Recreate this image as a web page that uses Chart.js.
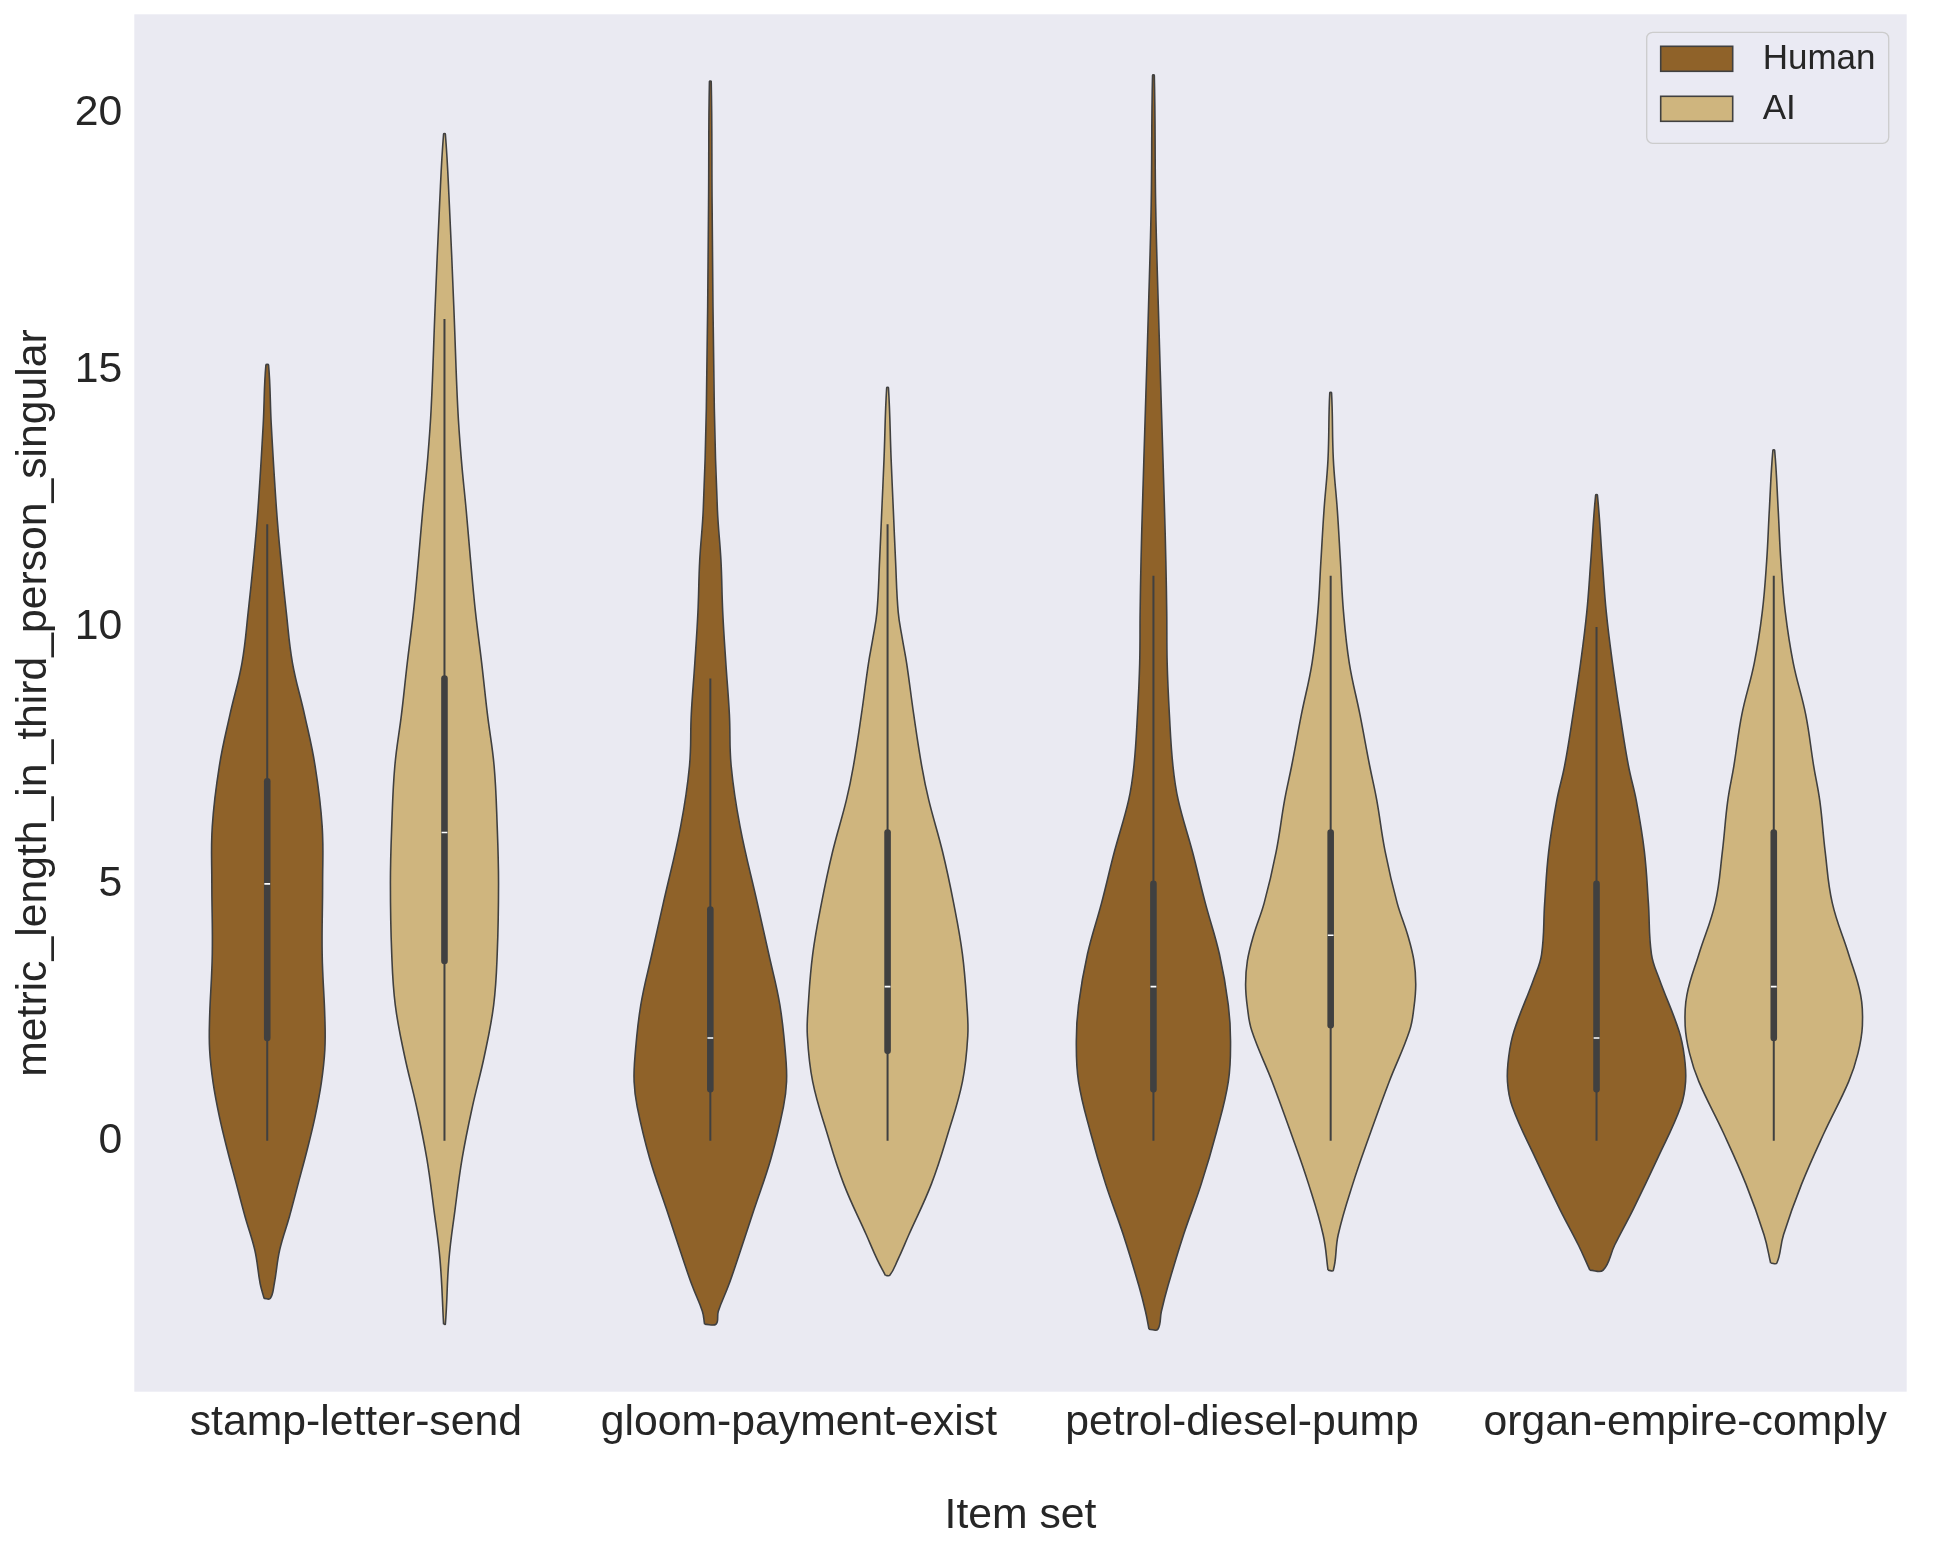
<!DOCTYPE html>
<html>
<head>
<meta charset="utf-8">
<title>metric_length_in_third_person_singular by item set</title>
<script src="https://cdn.jsdelivr.net/npm/chart.js@4.4.0/dist/chart.umd.min.js"></script>
<style>
    html, body { margin: 0; padding: 0; background: #ffffff; }
    canvas { display: block; }
</style>
</head>
<body>
<canvas id="violin-chart" width="1937" height="1550"></canvas>
<script>
const categories = ['stamp-letter-send', 'gloom-payment-exist', 'petrol-diesel-pump', 'organ-empire-comply'];
const groups = ['Human', 'AI'];
const yTicks = [0, 5, 10, 15, 20];

// inner box plot numbers, one per item set
const humanLow = [0, 0, 0, 0];
const humanQ1 = [2, 1, 1, 1];
const humanMedian = [5, 2, 3, 2];
const humanQ3 = [7, 4.5, 5, 5];
const humanHigh = [12, 9, 11, 10];

const aiLow = [0, 0, 0, 0];
const aiQ1 = [3.5, 1.75, 2.25, 2];
const aiMedian = [6, 3, 4, 3];
const aiQ3 = [9, 6, 6, 6];
const aiHigh = [16, 12, 11, 11];

// violin outlines: y levels and density half widths (x axis units)
const humanLevels = [
    [-3.07, -2.78, -2.13, -1.48, -0.83, -0.18, 0.47, 1.12, 1.77, 2.4, 3.63, 5.02, 6.12, 7.3, 8.3, 9.3, 10.29, 11.29, 12.28, 13.96, 15.1],
    [-3.57, -3.32, -2.82, -2.32, -1.33, -0.34, 0.66, 1.15, 1.65, 2.64, 3.63, 4.63, 6.12, 7.3, 8.3, 9.3, 10.29, 11.29, 12.28, 14.26, 18.23, 20.62],
    [-3.67, -3.32, -2.82, -1.83, -0.84, 0.16, 1.15, 1.94, 2.64, 3.63, 4.63, 5.63, 6.63, 7.3, 8.3, 9.3, 10.29, 11.29, 12.28, 14.26, 16.25, 18.23, 20.74],
    [-2.52, -2.03, -1.33, -0.34, 0.66, 1.15, 1.65, 2.14, 3.14, 3.63, 4.63, 5.63, 6.61, 7.3, 8.3, 9.3, 10.29, 11.29, 12.57]
];
const humanWidths = [
    [0.007, 0.016, 0.028, 0.050, 0.070, 0.090, 0.108, 0.122, 0.130, 0.130, 0.124, 0.125, 0.124, 0.108, 0.084, 0.057, 0.043, 0.031, 0.021, 0.009, 0.003],
    [0.013, 0.018, 0.041, 0.061, 0.099, 0.137, 0.165, 0.172, 0.170, 0.157, 0.132, 0.106, 0.067, 0.047, 0.043, 0.035, 0.028, 0.024, 0.016, 0.009, 0.004, 0.002],
    [0.010, 0.018, 0.033, 0.068, 0.108, 0.142, 0.169, 0.174, 0.169, 0.149, 0.117, 0.088, 0.056, 0.044, 0.036, 0.031, 0.030, 0.028, 0.025, 0.018, 0.011, 0.005, 0.002],
    [0.015, 0.041, 0.083, 0.138, 0.190, 0.201, 0.198, 0.186, 0.142, 0.124, 0.117, 0.108, 0.090, 0.072, 0.053, 0.036, 0.022, 0.013, 0.002]
];
const aiLevels = [
    [-3.57, -2.32, -1.33, -0.34, 0.66, 1.65, 2.64, 3.63, 5.02, 6.12, 7.3, 8.3, 9.3, 10.29, 11.29, 12.28, 13.27, 14.26, 16.25, 18.23, 19.6],
    [-2.62, -2.32, -1.83, -0.84, 0.16, 1.15, 2.04, 2.64, 3.63, 4.63, 5.63, 6.63, 7.3, 8.3, 9.3, 9.79, 10.29, 11.29, 12.28, 13.27, 14.66],
    [-2.52, -1.83, -0.84, 0.16, 1.15, 2.14, 2.6, 3.04, 3.5, 4.0, 4.63, 5.63, 6.63, 7.3, 8.3, 9.3, 10.29, 11.29, 12.28, 13.27, 14.56],
    [-2.38, -1.83, -0.84, 0.16, 1.15, 1.7, 2.24, 2.84, 3.63, 4.63, 5.63, 6.61, 7.3, 8.3, 9.3, 10.29, 11.29, 12.28, 13.44]
];
const aiWidths = [
    [0.002, 0.010, 0.024, 0.040, 0.063, 0.090, 0.111, 0.119, 0.122, 0.119, 0.112, 0.097, 0.084, 0.070, 0.059, 0.049, 0.038, 0.030, 0.021, 0.011, 0.002],
    [0.005, 0.023, 0.048, 0.099, 0.137, 0.169, 0.181, 0.179, 0.169, 0.149, 0.124, 0.093, 0.077, 0.059, 0.043, 0.033, 0.024, 0.018, 0.013, 0.008, 0.002],
    [0.006, 0.017, 0.050, 0.090, 0.132, 0.178, 0.188, 0.192, 0.188, 0.174, 0.150, 0.123, 0.104, 0.088, 0.066, 0.042, 0.029, 0.022, 0.015, 0.006, 0.002],
    [0.007, 0.022, 0.063, 0.114, 0.169, 0.190, 0.200, 0.196, 0.169, 0.132, 0.116, 0.104, 0.090, 0.072, 0.044, 0.026, 0.016, 0.010, 0.002]
];

const fontFamily = '"Liberation Sans", Arial, Helvetica, sans-serif';
const textColor = '#262626';
const lineColor = '#404040';
const groupColors = ['#8f6229', '#cfb57e'];
const dodge = 0.2;

// left side going up, right side coming down, then back to the start
function outline(center, levels, widths) {
    let left = levels.map((y, i) => ({x: center - widths[i], y: y}));
    let right = levels.map((y, i) => ({x: center + widths[i], y: y})).reverse();
    return left.concat(right, [left[0]]);
}

const series = [
    {offset: -dodge, color: groupColors[0], levels: humanLevels, widths: humanWidths,
        low: humanLow, q1: humanQ1, med: humanMedian, q3: humanQ3, high: humanHigh},
    {offset: dodge, color: groupColors[1], levels: aiLevels, widths: aiWidths,
        low: aiLow, q1: aiQ1, med: aiMedian, q3: aiQ3, high: aiHigh}
];

const datasets = [];
series.forEach(s => {
    categories.forEach((cat, i) => {
        let c = i + s.offset;
        datasets.push({
            data: outline(c, s.levels[i], s.widths[i]),
            showLine: true, fill: 'shape', tension: 0.4,
            backgroundColor: s.color, borderColor: lineColor, borderWidth: 1.6,
            pointRadius: 0, order: 3
        });
        // whisker
        datasets.push({
            data: [{x: c, y: s.low[i]}, {x: c, y: s.high[i]}],
            showLine: true, borderColor: lineColor, borderWidth: 2, pointRadius: 0, order: 2
        });
        // box between quartiles
        datasets.push({
            data: [{x: c, y: s.q1[i]}, {x: c, y: s.q3[i]}],
            showLine: true, borderColor: lineColor, borderWidth: 6.6, borderCapStyle: 'round',
            pointRadius: 0, order: 1
        });
        // median tick
        datasets.push({
            data: [{x: c - 0.0065, y: s.med[i]}, {x: c + 0.0065, y: s.med[i]}],
            showLine: true, borderColor: '#ffffff', borderWidth: 1.6, pointRadius: 0, order: 0
        });
    });
});

const plotBackground = {
    id: 'plotBackground',
    beforeDraw(chart) {
        const {ctx, chartArea} = chart;
        ctx.save();
        ctx.fillStyle = '#eaeaf2';
        ctx.fillRect(chartArea.left, chartArea.top, chartArea.right - chartArea.left, chartArea.bottom - chartArea.top);
        ctx.restore();
    }
};

// legend box sits inside the plot, top right, like matplotlib's
const cornerLegend = {
    id: 'cornerLegend',
    afterDraw(chart) {
        const {ctx, chartArea} = chart;
        const w = 242, h = 111;
        const x = chartArea.right - 18 - w;
        const y = chartArea.top + 18;
        ctx.save();
        ctx.beginPath();
        ctx.roundRect(x, y, w, h, 6);
        ctx.fillStyle = 'rgba(234, 234, 242, 0.8)';
        ctx.fill();
        ctx.strokeStyle = '#cccccc';
        ctx.lineWidth = 1.3;
        ctx.stroke();
        groups.forEach((name, i) => {
            let rowY = y + 14 + i * 50;
            ctx.fillStyle = groupColors[i];
            ctx.fillRect(x + 14, rowY, 72, 25);
            ctx.strokeStyle = lineColor;
            ctx.lineWidth = 1.6;
            ctx.strokeRect(x + 14, rowY, 72, 25);
            ctx.fillStyle = textColor;
            ctx.font = '35px ' + fontFamily;
            ctx.textAlign = 'left';
            ctx.textBaseline = 'middle';
            ctx.fillText(name, x + 116, rowY + 13);
        });
        ctx.restore();
    }
};

Chart.defaults.font.family = fontFamily;
Chart.defaults.color = textColor;

const chart = new Chart(document.getElementById('violin-chart'), {
    type: 'scatter',
    data: {datasets: datasets},
    plugins: [plotBackground, cornerLegend],
    options: {
        responsive: false,
        animation: false,
        devicePixelRatio: 1,
        events: [],
        layout: {padding: {top: 14.3, right: 30.3, left: 0, bottom: 0}},
        plugins: {
            legend: {display: false},
            tooltip: {enabled: false}
        },
        scales: {
            x: {
                type: 'linear',
                min: -0.5,
                max: 3.5,
                grid: {display: false, drawTicks: false},
                border: {display: false},
                afterBuildTicks: (scale) => {
                    scale.ticks = categories.map((c, i) => ({value: i}));
                },
                afterFit: (scale) => {
                    scale.height = 158.3;
                    scale.paddingLeft = 0;
                    scale.paddingRight = 0;
                },
                ticks: {
                    autoSkip: false,
                    maxRotation: 0,
                    padding: 6,
                    font: {size: 42.7},
                    color: textColor,
                    callback: (value) => categories[value]
                },
                title: {
                    display: true,
                    text: 'Item set',
                    font: {size: 42.7},
                    color: textColor,
                    padding: {top: 0, bottom: 8}
                }
            },
            y: {
                type: 'linear',
                min: -4.886,
                max: 21.93,
                grid: {display: false, drawTicks: false},
                border: {display: false},
                afterBuildTicks: (scale) => {
                    scale.ticks = yTicks.map(v => ({value: v}));
                },
                afterFit: (scale) => {
                    // labels sit well inside the axis, so no extra room above or below
                    scale.width = 134.3;
                    scale.paddingTop = 0;
                    scale.paddingBottom = 0;
                },
                ticks: {
                    padding: 12,
                    font: {size: 42.7},
                    color: textColor
                },
                title: {
                    display: true,
                    text: 'metric_length_in_third_person_singular',
                    font: {size: 42.7},
                    color: textColor,
                    padding: {top: 9, bottom: 0}
                }
            }
        }
    }
});
</script>
</body>
</html>
